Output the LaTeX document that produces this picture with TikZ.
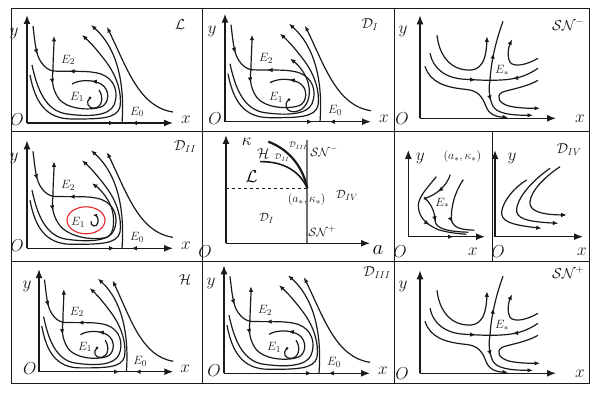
\documentclass[tikz,border=0pt]{standalone}
\usetikzlibrary{arrows.meta, decorations.markings}
\definecolor{ppInk}{HTML}{1A1A1A}
\definecolor{ppGrey}{HTML}{707070}
\definecolor{ppRed}{HTML}{E3262B}
\tikzset{
  orbit/.style={draw=ppInk, line width=1.2pt},
  orbitend/.style={orbit, -{Latex[length=5.5pt, width=4.5pt]}},
  axis/.style={draw=ppInk, line width=1.4pt, -{Latex[length=9pt, width=7pt]}},
  midarrow/.style={postaction={decorate, decoration={markings,
      mark=at position #1 with {\arrow{Latex[length=5.5pt, width=4.5pt]}}}}},
  backarrow/.style={postaction={decorate, decoration={markings,
      mark=at position #1 with {\arrowreversed{Latex[length=5.5pt, width=4.5pt]}}}}},
  cellrule/.style={draw=ppInk, line width=0.9pt},
  axlbl/.style={font=\fontsize{17}{19}\selectfont, text=ppInk, inner sep=0pt},
  eqlbl/.style={font=\fontsize{12.5}{14}\selectfont, text=ppInk, inner sep=0pt},
  regionlbl/.style={font=\fontsize{14}{16}\selectfont, text=ppInk, inner sep=0pt},
  smalllbl/.style={font=\fontsize{8}{9}\selectfont, text=ppInk, inner sep=0pt},
  eqdot/.style={circle, fill=ppInk, inner sep=0pt, minimum size=3pt},
}
\newcommand{\basinflow}{
  \draw[axis] (0,0) -- (0,108);
  \draw[axis, midarrow=0.6, backarrow=0.715] (0,0) -- (146,0);
  \coordinate (E0) at (95,0);
  \coordinate (E2) at (26,52);
  \draw[orbit, midarrow=0.55] (6,97) .. controls (8,80) and (9,68) .. (14,61)
    .. controls (18,55) and (22,53) .. (E2);
  \draw[orbitend] (E2) .. controls (26,64) and (27,76) .. (27,87);
  \draw[orbit, midarrow=0.92] (5,58) .. controls (10,35) and (18,12) .. (40,9)
    .. controls (62,6) and (82,7) .. (87,18) .. controls (92,30) and (88,44) .. (74,49)
    .. controls (62,53) and (44,51) .. (E2);
  \draw[orbitend] (3,48) .. controls (8,22) and (18,4) .. (45,4)
    .. controls (72,4) and (90,4) .. (93,16) .. controls (95,30) and (90,46) .. (80,60)
    .. controls (72,71) and (63,81) .. (55,88);
  \draw[orbitend] (E0) .. controls (98,40) and (90,75) .. (64,98);
  \draw[orbitend] (146,11) .. controls (112,16) and (100,55) .. (80,96);
  \node[axlbl] (ylbl) at (-13,90) {$y$};
  \node[axlbl] (olbl) at (-10,3) {$O$};
  \node[axlbl] (xlbl) at (159,3) {$x$};
  \node[eqlbl] (e0lbl) at (110,11) {$E_0$};
  \node[eqlbl] (e2lbl) at (41,63) {$E_2$};
}
\newcommand{\innerloop}{
  \draw[orbit, midarrow=0.1, midarrow=0.85] (E2) .. controls (24,40) and (27,31) .. (32,24)
    .. controls (40,14) and (62,12) .. (74,16) .. controls (82,19) and (84,33) .. (74,39)
    .. controls (64,44) and (52,43) .. (45,39);
}
\newcommand{\focuscurl}{
  \coordinate (E1) at (63,25);
  \draw[orbit] (E1) .. controls (58,21) and (61,14) .. (68,15)
    .. controls (75,16) and (77,26) .. (72,33);
  \node[eqdot] (e1dot) at (E1) {};
  \node[eqlbl] (e1lbl) at (50,26) {$E_1$};
}
\newcommand{\saddlenode}{
  \draw[axis] (0,0) -- (0,103);
  \draw[axis] (0,0) -- (136,0);
  \coordinate (Es) at (70,38);
  \draw[orbitend] (17,83) .. controls (19,65) and (28,52) .. (42,49)
    .. controls (56,46) and (66,50) .. (67,82);
  \draw[orbit, midarrow=0.8] (10,65) .. controls (13,50) and (25,40) .. (45,39)
    .. controls (55,38.5) and (62,38) .. (Es);
  \draw[orbitend] (5,52) .. controls (10,36) and (25,31) .. (45,29)
    .. controls (58,28) and (62,22) .. (66,12) .. controls (69,4) and (75,1.5) .. (88,1);
  \draw[orbit, midarrow=0.45] (Es) .. controls (71,55) and (75,75) .. (83,97);
  \draw[orbitend, midarrow=0.3] (Es) .. controls (68,28) and (70,18) .. (73,12)
    .. controls (77,5) and (90,3) .. (113,3);
  \draw[orbit, midarrow=0.55] (118,50) .. controls (106,42) and (96,38) .. (Es);
  \draw[orbitend] (118,60) .. controls (106,53) and (94,51) .. (90,56)
    .. controls (87,61) and (88,70) .. (92,79);
  \draw[orbitend] (118,38) .. controls (106,31) and (90,29) .. (82,26)
    .. controls (76,22) and (78,15) .. (90,12) .. controls (100,10) and (110,10) .. (120,10);
  \node[axlbl] (ylbl) at (-17,87) {$y$};
  \node[axlbl] (olbl) at (-18,0) {$O$};
  \node[axlbl] (xlbl) at (160,0) {$x$};
  \node[eqlbl] (eslbl) at (82,48) {$E_*$};
}

\begin{document}
\begin{tikzpicture}[x=1pt, y=1pt]
  \useasboundingbox (0,0) rectangle (599,393);
  \draw[cellrule] (11,10) rectangle (589,385);
  \draw[cellrule] (11,262) -- (589,262);
  \draw[cellrule] (11,132) -- (589,132);
  \draw[cellrule] (202,10) -- (202,385);
  \draw[cellrule] (394,10) -- (394,385);
  \draw[cellrule] (492,132) -- (492,262);

  \begin{scope}[shift={(27,270)}, name prefix=L-]
    \basinflow
    \innerloop
    \focuscurl
  \end{scope}
  \node[regionlbl] (lbl-L) at (180,368) {$\mathcal{L}$};

  \begin{scope}[shift={(225,271.3)}, name prefix=DI-]
    \basinflow
    \innerloop
    \coordinate (E1) at (64,22);
    \draw[orbitend] (E1) .. controls (58,18) and (61,9) .. (70,10)
      .. controls (80,11) and (86,22) .. (84,35) .. controls (82,48) and (72,58) .. (65,63);
    \node[eqdot] (e1dot) at (E1) {};
    \node[eqlbl] (e1lbl) at (51,24) {$E_1$};
  \end{scope}
  \node[regionlbl] (lbl-DI) at (370,368) {$\mathcal{D}_{I}$};

  \begin{scope}[shift={(27,144.7)}, name prefix=DII-]
    \basinflow
    \draw[ppRed, line width=1.1pt] (59,28) ellipse [x radius=19, y radius=13.5];
    \draw[orbitend, midarrow=0.1] (E2) .. controls (24,40) and (27,31) .. (32,24)
      .. controls (40,12) and (64,7) .. (80,11) .. controls (88,14) and (88,32) .. (84,42)
      .. controls (80,52) and (72,60) .. (65,65);
    \draw[orbit, -{Latex[length=4pt, width=3.5pt]}] (64,27) .. controls (63,22) and (70,20) .. (71,26)
      .. controls (72,31) and (68,33) .. (66,33);
    \node[eqlbl] (e1lbl) at (51,26) {$E_1$};
  \end{scope}
  \node[regionlbl] (lbl-DII) at (185,246) {$\mathcal{D}_{II}$};

  \begin{scope}[shift={(39,21.3)}, xscale=0.92, yscale=0.95, name prefix=H-]
    \basinflow
    \innerloop
    \focuscurl
  \end{scope}
  \node[regionlbl] (lbl-H) at (185,113) {$\mathcal{H}$};

  \begin{scope}[shift={(224,19.7)}, name prefix=DIII-]
    \basinflow
    \innerloop
    \focuscurl
  \end{scope}
  \node[regionlbl] (lbl-DIII) at (377,120) {$\mathcal{D}_{III}$};

  \begin{scope}[shift={(420,274.7)}, name prefix=SNm-]
    \saddlenode
  \end{scope}
  \node[regionlbl] (lbl-SNm) at (568,368) {$\mathcal{SN}^{-}$};

  \begin{scope}[shift={(420,19.7)}, name prefix=SNp-]
    \saddlenode
  \end{scope}
  \node[regionlbl] (lbl-SNp) at (568,120) {$\mathcal{SN}^{+}$};

  \begin{scope}[shift={(226,149.7)}, name prefix=bif-]
    \draw[axis] (0,0) -- (0,108.3);
    \draw[axis] (0,0) -- (144,0);
    \coordinate (crit) at (81.3,55);
    \draw[ppGrey, line width=1.8pt] (81.3,0) -- (81.3,103.3);
    \draw[ppInk, dashed, line width=0.8pt] (0,55) -- (crit);
    \draw[ppInk, line width=2.2pt] (42.3,101.6) .. controls (60,95) and (76,80) .. (crit);
    \draw[ppInk, line width=1.6pt] (34,81.6) .. controls (52,82) and (72,76) .. (crit);
    \node[font=\fontsize{16}{18}\selectfont, inner sep=0pt] (kappa) at (20.7,101.6) {$\kappa$};
    \node[axlbl] (olbl) at (-21,-8.4) {$O$};
    \node[font=\fontsize{21}{23}\selectfont, inner sep=0pt] (albl) at (152,-6.7) {$a$};
    \node[regionlbl] (hlbl) at (37.3,90) {$\mathcal{H}$};
    \node[smalllbl] (d2lbl) at (56,85.6) {$\mathcal{D}_{II}$};
    \node[smalllbl] (d3lbl) at (72.3,97.6) {$\mathcal{D}_{III}$};
    \node[font=\fontsize{16}{18}\selectfont, inner sep=0pt] (llbl) at (25.7,66.6) {$\mathcal{L}$};
    \node[eqlbl] (snmlbl) at (98,91.6) {$\mathcal{SN}^{-}$};
    \node[eqlbl] (critlbl) at (80.7,44) {$(a_*,\kappa_*)$};
    \node[eqlbl] (d4lbl) at (121,48.3) {$\mathcal{D}_{IV}$};
    \node[eqlbl] (d1lbl) at (40.7,25) {$\mathcal{D}_{I}$};
    \node[eqlbl] (snplbl) at (96,11.6) {$\mathcal{SN}^{+}$};
  \end{scope}

  \begin{scope}[shift={(408.3,156.3)}, name prefix=crit-]
    \draw[axis] (0,0) -- (0,86.7);
    \draw[axis, midarrow=0.59] (0,0) -- (76.7,0);
    \coordinate (Es) at (16.7,38.4);
    \draw[orbit, midarrow=0.6] (42,62) .. controls (38,50) and (28,42) .. (Es);
    \draw[orbit, midarrow=0.42] (Es) .. controls (24,32) and (27,22) .. (27,15)
      .. controls (28,8) and (40,5) .. (60,4.5);
    \draw[orbit, midarrow=0.6] (28,60) .. controls (20,50) and (10,40) .. (10,31)
      .. controls (10,20) and (18,12) .. (30,7) .. controls (40,4) and (50,3) .. (58,2.5);
    \draw[orbit, midarrow=0.65] (55,57) .. controls (46,44) and (43,30) .. (43,18)
      .. controls (44,9) and (52,7) .. (66,6.5);
    \node[eqdot] (esdot) at (Es) {};
    \node[axlbl] (ylbl) at (12,78.7) {$y$};
    \node[eqlbl] (critlbl) at (54,80) {$(a_*,\kappa_*)$};
    \node[axlbl] (olbl) at (-8.3,-15.3) {$O$};
    \node[axlbl] (xlbl) at (64.7,-15.3) {$x$};
    \node[eqlbl] (eslbl) at (34,33.7) {$E_*$};
  \end{scope}

  \begin{scope}[shift={(495,156.3)}, name prefix=DIV-]
    \draw[axis] (0,0) -- (0,86.7);
    \draw[axis] (0,0) -- (88,0);
    \draw[orbitend] (31.7,56.7) .. controls (20,50) and (8,36) .. (6.7,25)
      .. controls (6,16) and (14,12) .. (46.7,8.4);
    \draw[orbitend] (55,68.4) .. controls (40,58) and (24,42) .. (21.7,28.4)
      .. controls (20,18) and (32,15) .. (63.3,13.4);
    \draw[orbitend] (65,70) .. controls (50,60) and (36,46) .. (35,35)
      .. controls (34,26) and (45,22) .. (71.7,21.7);
    \node[axlbl] (ylbl) at (17,78.7) {$y$};
    \node[regionlbl] (d4lbl) at (74,86.7) {$\mathcal{D}_{IV}$};
    \node[axlbl] (olbl) at (3,-15.3) {$O$};
    \node[axlbl] (xlbl) at (87,-15.3) {$x$};
  \end{scope}
\end{tikzpicture}
\end{document}
